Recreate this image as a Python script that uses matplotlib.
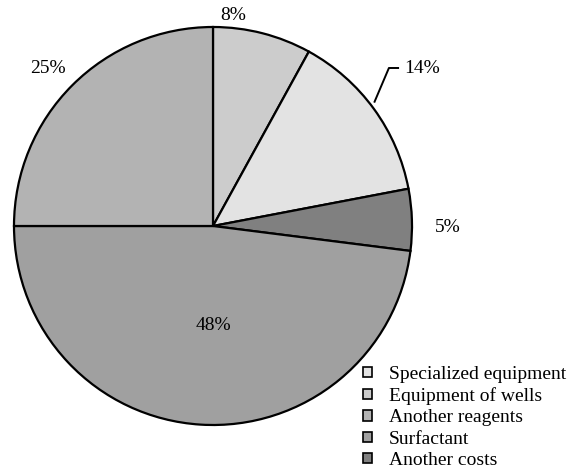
import matplotlib.pyplot as plt
from matplotlib.patches import Patch

plt.rcParams['font.family'] = ['Liberation Serif', 'DejaVu Serif']

# Cost shares, clockwise from the top
slice_names = ["Equipment of wells", "Specialized equipment", "Another costs",
               "Surfactant", "Another reagents"]
slice_values = [8, 14, 5, 48, 25]
slice_colors = ["#cccccc", "#e3e3e3", "#808080", "#a0a0a0", "#b3b3b3"]

legend_order = ["Specialized equipment", "Equipment of wells", "Another reagents",
                "Surfactant", "Another costs"]

fig = plt.figure(figsize=(5.7, 4.72), dpi=100)
ax = fig.add_axes([14 / 570, 47 / 472, 398 / 570, 398 / 472])

wedges, _ = ax.pie(slice_values, colors=slice_colors, startangle=90,
                   counterclock=False,
                   wedgeprops=dict(edgecolor="black", linewidth=1.6))
ax.set_xlim(-1, 1)
ax.set_ylim(-1, 1)
ax.set_aspect("equal")
ax.axis("off")

label_pos = {
    "Equipment of wells": (0.10, 1.06, "center"),
    "Specialized equipment": (0.96, 0.79, "left"),
    "Another costs": (1.18, -0.01, "center"),
    "Surfactant": (0.0, -0.50, "center"),
    "Another reagents": (-0.83, 0.79, "center"),
}
for name, val in zip(slice_names, slice_values):
    x, y, ha = label_pos[name]
    ax.text(x, y, f"{val}%", ha=ha, va="center", fontsize=14, clip_on=False)

# Leader line for the 14% label
ax.plot([0.81, 0.884, 0.935], [0.62, 0.794, 0.794], color="black",
        linewidth=1.4, clip_on=False, solid_capstyle="butt")

color_of = dict(zip(slice_names, slice_colors))
handles = [Patch(facecolor=color_of[n], edgecolor="black", linewidth=1.2)
           for n in legend_order]
fig.legend(handles, legend_order, loc="upper left",
           bbox_to_anchor=(363 / 570, 1 - 366 / 472), frameon=False,
           fontsize=14, handlelength=0.45, handleheight=0.45,
           handletextpad=0.9, labelspacing=0.22, borderpad=0, borderaxespad=0)

fig.savefig("out.png", dpi=100)
